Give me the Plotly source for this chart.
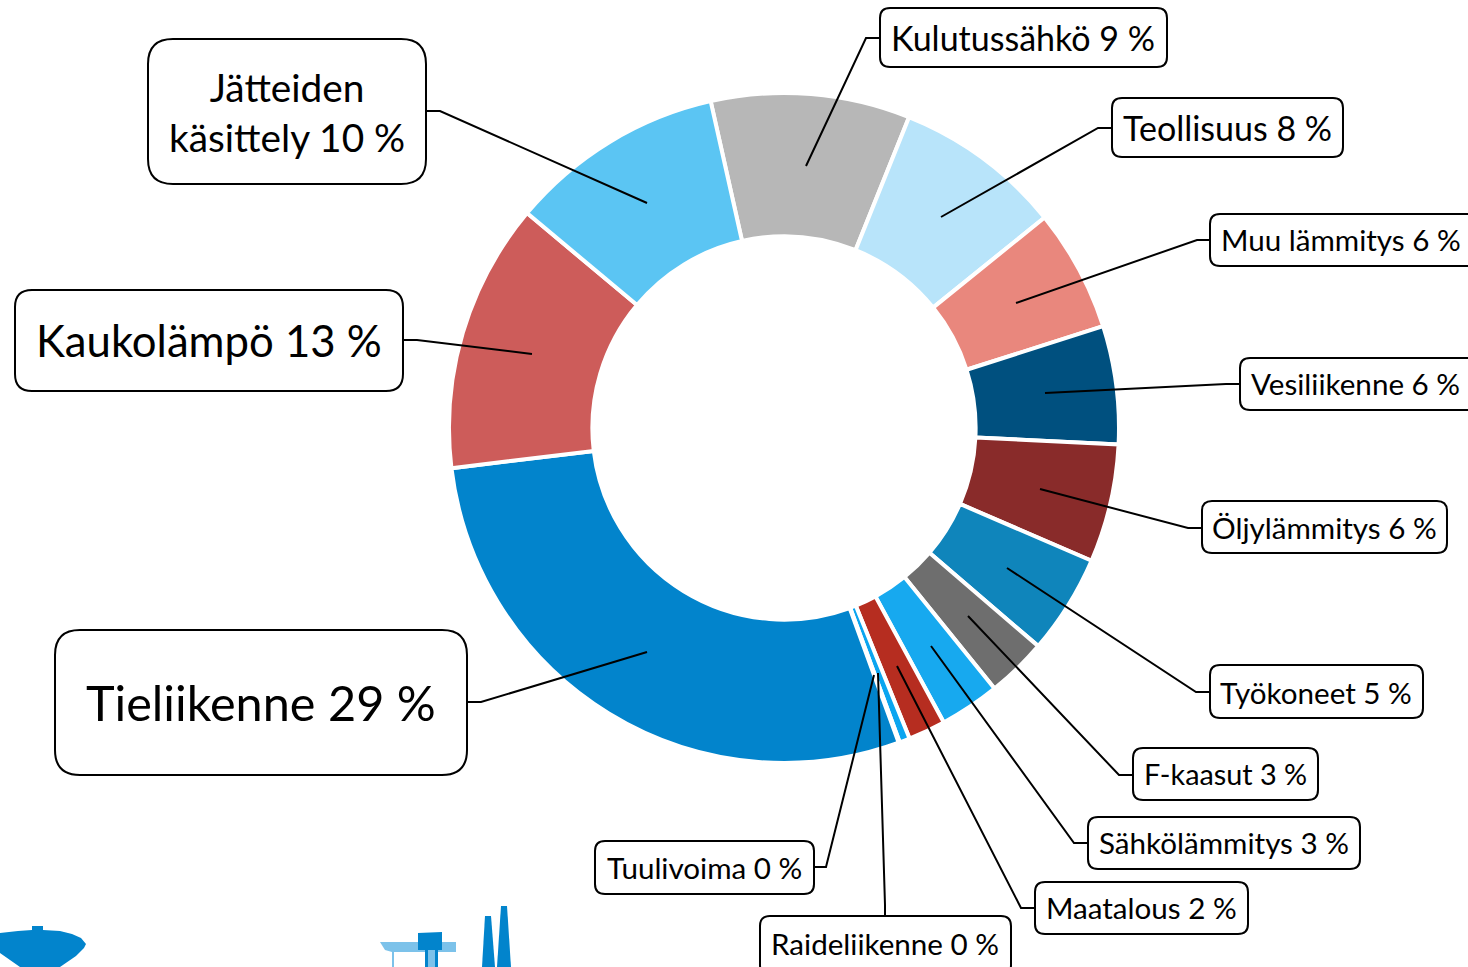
import plotly.graph_objects as go

W, H = 1468, 967

categories = ["Kulutussähkö", "Teollisuus", "Muu lämmitys", "Vesiliikenne", "Öljylämmitys",
              "Työkoneet", "F-kaasut", "Sähkölämmitys", "Maatalous", "Raideliikenne",
              "Tuulivoima", "Tieliikenne", "Kaukolämpö", "Jätteiden käsittely"]
shares = [9.6, 8.1, 5.9, 5.7, 5.7, 4.8, 2.9, 2.9, 1.8, 0.5, 0.05, 28.65, 13.0, 10.4]
rounded = [9, 8, 6, 6, 6, 5, 3, 3, 2, 0, 0, 29, 13, 10]
colors = ["#B7B7B7", "#B8E4FA", "#E9877D", "#00507F", "#892B2A", "#0F85BB", "#6E6E6E",
          "#17A9EF", "#B62D20", "#0AA5F0", "#0AA5F0", "#0284CC", "#CD5C5A", "#5BC5F3"]

# callout layout: box (x0, y0, x1, y1), corner radius, font size, leader polyline (pixels), text centre y
callouts = {
    "Kulutussähkö": ((880, 8, 1167, 67), 10, 34, [(880, 38), (866, 38), (806, 166)], 37),
    "Teollisuus": ((1112, 98, 1343, 157), 10, 34, [(1112, 128), (1098, 128), (941, 217)], 128),
    "Muu lämmitys": ((1210, 214, 1480, 266), 10, 29.6, [(1210, 240), (1197, 240), (1016, 303)], 239),
    "Vesiliikenne": ((1240, 358, 1480, 410), 10, 29.6, [(1240, 384), (1226, 384), (1045, 393)], 383),
    "Öljylämmitys": ((1202, 501, 1447, 553), 10, 29.6, [(1202, 528), (1188, 528), (1040, 489)], 527),
    "Työkoneet": ((1210, 665, 1423, 718), 10, 29.6, [(1210, 692), (1196, 692), (1007, 568)], 692),
    "F-kaasut": ((1133, 748, 1318, 800), 10, 28.8, [(1133, 775), (1119, 775), (968, 616)], 774),
    "Sähkölämmitys": ((1088, 817, 1360, 869), 10, 29.6, [(1088, 843), (1074, 843), (931, 646)], 842),
    "Maatalous": ((1035, 882, 1248, 934), 10, 29.6, [(1035, 908), (1021, 908), (897, 666)], 907),
    "Raideliikenne": ((760, 916, 1011, 975), 10, 29.6, [(885, 916), (885, 905), (878, 673)], 943),
    "Tuulivoima": ((595, 841, 814, 894), 10, 29.6, [(814, 867), (826, 867), (874, 675)], 867),
    "Tieliikenne": ((55, 630, 467, 775), 25, 48.6, [(467, 702), (481, 702), (647, 652)], 702),
    "Kaukolämpö": ((15, 290, 403, 391), 17, 43.7, [(403, 340), (417, 340), (532, 354)], 340),
    "Jätteiden käsittely": ((148, 39, 426, 184), 25, 38.8, [(426, 111), (440, 111), (647, 203)], 112),
}

INK = "#000000"
ICON = "#0284CC"
ICON_LIGHT = "#7CC2EA"


def px(x):
    return x / W


def py(y):
    return 1 - y / H


def path(points, close=False):
    d = "M" + " L".join(f"{px(x):.5f},{py(y):.5f}" for x, y in points)
    return d + (" Z" if close else "")


def rounded_box(x0, y0, x1, y1, r):
    p = lambda x, y: f"{px(x):.5f},{py(y):.5f}"
    return (f"M{p(x0 + r, y0)} L{p(x1 - r, y0)} Q{p(x1, y0)} {p(x1, y0 + r)} "
            f"L{p(x1, y1 - r)} Q{p(x1, y1)} {p(x1 - r, y1)} L{p(x0 + r, y1)} "
            f"Q{p(x0, y1)} {p(x0, y1 - r)} L{p(x0, y0 + r)} Q{p(x0, y0)} {p(x0 + r, y0)} Z")


fig = go.Figure(go.Pie(
    labels=categories, values=shares, sort=False, direction="clockwise", rotation=-12.65,
    hole=0.572, textinfo="none", hoverinfo="label+percent", showlegend=False,
    marker=dict(colors=colors, line=dict(color="#FFFFFF", width=4)),
    domain=dict(x=[449 / W, 1119 / W], y=[1 - 763 / H, 1 - 93 / H]),
))

shapes, annotations = [], []
for name, value in zip(categories, rounded):
    (x0, y0, x1, y1), radius, size, leader, cy = callouts[name]
    shapes.append(dict(type="path", xref="paper", yref="paper", path=path(leader),
                       line=dict(color=INK, width=2)))
    shapes.append(dict(type="path", xref="paper", yref="paper",
                       path=rounded_box(x0, y0, x1, y1, radius),
                       fillcolor="#FFFFFF", line=dict(color=INK, width=2)))
    label = f"{name} {value} %"
    if name == "Jätteiden käsittely":
        label = f"Jätteiden<br>käsittely {value} %"
    cx = (x0 + min(x1, 1472)) / 2
    annotations.append(dict(x=px(cx - 0.5), y=py(cy), xref="paper", yref="paper", text=label,
                            showarrow=False,
                            font=dict(family="Lato", size=size, color="#000000"),
                            xanchor="center", yanchor="middle"))

# partially visible decorative icons at the bottom edge
icons = [
    ([(0, 933), (18, 931), (32, 930), (32, 926), (43, 926), (43, 930), (60, 931), (72, 934),
      (81, 938), (86, 944), (84, 948), (76, 956), (60, 967), (20, 967), (0, 953)], ICON),
    ([(380, 942), (456, 942), (456, 952), (392, 952), (385, 950)], ICON_LIGHT),
    ([(392, 951), (394, 951), (394, 967), (392, 967)], ICON_LIGHT),
    ([(418, 933), (442, 932), (442, 950), (418, 950)], ICON),
    ([(425, 950), (438, 950), (438, 967), (425, 967)], ICON_LIGHT),
    ([(425, 950), (428, 950), (428, 967), (425, 967)], ICON),
    ([(435, 950), (438, 950), (438, 967), (435, 967)], ICON),
    ([(485, 916), (491, 916), (495, 967), (482, 967)], ICON),
    ([(501, 906), (507, 906), (511, 967), (497, 967)], ICON),
]
for pts, fill in icons:
    shapes.append(dict(type="path", xref="paper", yref="paper", path=path(pts, close=True),
                       fillcolor=fill, line=dict(width=0)))

fig.update_layout(width=W, height=H, margin=dict(l=0, r=0, t=0, b=0),
                  paper_bgcolor="#FFFFFF", plot_bgcolor="#FFFFFF",
                  shapes=shapes, annotations=annotations)
fig.write_html("out.html", config=dict(displayModeBar=False),
               post_script="document.body.style.margin='0';document.documentElement.style.overflow='hidden';")
